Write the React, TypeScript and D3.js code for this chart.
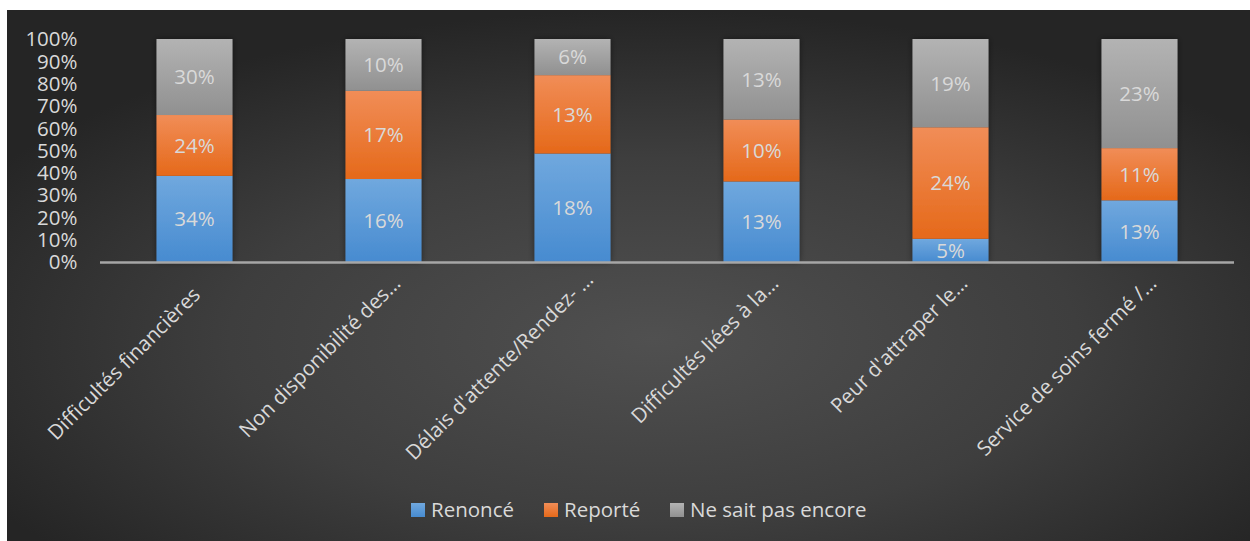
import React from "react";
import * as d3 from "d3";

const categories = [
  "Difficultés financières",
  "Non disponibilité des…",
  "Délais d'attente/Rendez- …",
  "Difficultés liées à la…",
  "Peur d'attraper le…",
  "Service de soins fermé /…",
];
const renonce = [34, 16, 18, 13, 5, 13];
const reporte = [24, 17, 13, 10, 24, 11];
const neSaitPas = [30, 10, 6, 13, 19, 23];
const seriesKeys = ["Renoncé", "Reporté", "Ne sait pas encore"];
const yTicks = [0, 0.1, 0.2, 0.3, 0.4, 0.5, 0.6, 0.7, 0.8, 0.9, 1];

const W = 1250;
const H = 541;
const FONT = "'Open Sans', 'DejaVu Sans', sans-serif";
const TXT = "#d9d9d9";
const FS = 20.5;

const gradients = [
  { id: "gBlue", top: "#70a8de", bottom: "#478bd0" },
  { id: "gOrange", top: "#f18d57", bottom: "#e5691a" },
  { id: "gGray", top: "#b3b3b3", bottom: "#909090" },
];

export default function App() {
  const rows = categories.map((c, i) => ({
    cat: c,
    "Renoncé": renonce[i],
    "Reporté": reporte[i],
    "Ne sait pas encore": neSaitPas[i],
  }));
  const stacked = d3
    .stack<any>()
    .keys(seriesKeys)
    .offset(d3.stackOffsetExpand)(rows);

  const x = d3.scaleBand().domain(categories).range([100, 1234]).paddingInner(0.598).paddingOuter(0.299);
  const y = d3.scaleLinear().domain([0, 1]).range([262, 39]);
  const bw = x.bandwidth();

  const legendItems = [
    { key: "Renoncé", x: 411 },
    { key: "Reporté", x: 544 },
    { key: "Ne sait pas encore", x: 670 },
  ];

  return (
    <svg
      width={W}
      height={H}
      style={{ position: "absolute", left: 0, top: 0, display: "block" }}
      fontFamily={FONT}
    >
      <defs>
        <radialGradient id="bg" cx="52%" cy="62%" r="62%">
          <stop offset="0%" stopColor="#505050" />
          <stop offset="55%" stopColor="#3e3e3e" />
          <stop offset="100%" stopColor="#252525" />
        </radialGradient>
        {gradients.map((g) => (
          <linearGradient key={g.id} id={g.id} x1="0" y1="0" x2="0" y2="1">
            <stop offset="0%" stopColor={g.top} />
            <stop offset="100%" stopColor={g.bottom} />
          </linearGradient>
        ))}
        <filter id="shadow" x="-20%" y="-10%" width="140%" height="120%">
          <feDropShadow dx="0" dy="0" stdDeviation="3" floodColor="#000" floodOpacity="0.45" />
        </filter>
      </defs>
      <rect x={0} y={0} width={W} height={H} fill="#ffffff" />
      <rect x={7} y={10} width={W - 7} height={H - 10} fill="url(#bg)" />

      {/* y-axis tick labels */}
      {yTicks.map((t) => (
        <text
          key={t}
          x={77.5}
          y={y(t)}
          dy="0.36em"
          textAnchor="end"
          fontSize={FS}
          fill={TXT}
        >
          {d3.format(".0%")(t)}
        </text>
      ))}

      {/* bars */}
      <g filter="url(#shadow)">
        {stacked.map((s, si) =>
          s.map((d, i) => (
            <rect
              key={`${si}-${i}`}
              x={x(categories[i])!}
              y={y(d[1])}
              width={bw}
              height={y(d[0]) - y(d[1])}
              fill={`url(#${gradients[si].id})`}
            />
          ))
        )}
      </g>

      {/* axis line */}
      <line x1={100} x2={1234} y1={262.5} y2={262.5} stroke="#a6a6a6" strokeWidth={2.5} />

      {/* data labels */}
      {stacked.map((s, si) =>
        s.map((d, i) => (
          <text
            key={`l${si}-${i}`}
            x={x(categories[i])! + bw / 2}
            y={(y(d[0]) + y(d[1])) / 2}
            dy="0.36em"
            textAnchor="middle"
            fontSize={FS}
            fill={TXT}
          >
            {[renonce, reporte, neSaitPas][si][i] + "%"}
          </text>
        ))
      )}

      {/* category labels */}
      {categories.map((c) => {
        const cx = x(c)! + bw / 2 + 7;
        const cy = 296;
        const hasEll = c.endsWith("…");
        let main = c;
        let suffix = "";
        if (hasEll) {
          main = c.slice(0, -1).replace(/ $/, "");
          suffix = c.slice(main.length);
        }
        return (
          <g key={c} transform={`translate(${cx},${cy}) rotate(-45)`}>
            <text x={0} y={0} textAnchor="end" fontSize={FS} fill={TXT}>
              {main}
            </text>
            {suffix && (
              <text x={0} y={0} textAnchor="start" fontSize={FS} fill={TXT} style={{ whiteSpace: "pre" }}>
                {suffix}
              </text>
            )}
          </g>
        );
      })}

      {/* legend */}
      {legendItems.map((it, i) => (
        <g key={it.key}>
          <rect x={it.x} y={503} width={14} height={14} fill={`url(#${gradients[i].id})`} />
          <text x={it.x + 20} y={510} dy="0.36em" fontSize={FS} fill={TXT}>
            {it.key}
          </text>
        </g>
      ))}
    </svg>
  );
}
